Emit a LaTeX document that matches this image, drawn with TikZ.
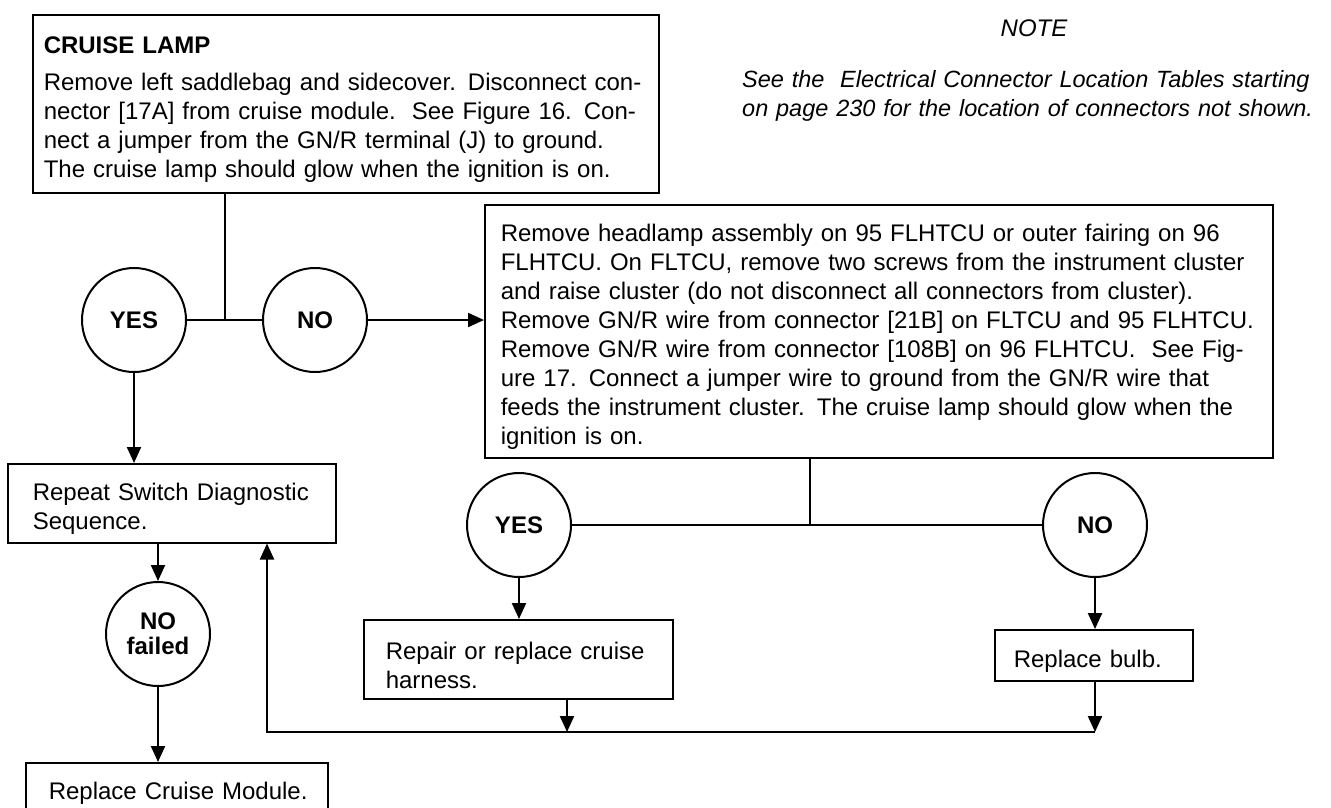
\documentclass[tikz,border=0pt]{standalone}
\usepackage{fontspec}
\setmainfont{Liberation Sans}
\usetikzlibrary{arrows.meta}
% a justified line of full width, and a line at its natural width
\newcommand{\jl}[1]{\hbox to \hsize{#1}}
\newcommand{\nl}[1]{\hbox{#1}}
\begin{document}
\begin{tikzpicture}[x=1pt,y=-1pt,
  txt/.style={font=\fontsize{24}{29}\selectfont},
  box/.style={txt,draw,line width=1.5pt,rectangle,anchor=north west,inner ysep=0pt},
  dec/.style={draw,circle,line width=2pt,minimum size=104pt,inner sep=0pt,
    font=\fontsize{24}{25}\selectfont\bfseries,align=center},
  wire/.style={line width=2.2pt},
  flow/.style={wire,-{Triangle[length=16pt,width=14pt]}},
]
\useasboundingbox (0,0) rectangle (1331,807);

% note in the upper right corner
\node[font=\fontsize{24}{29}\selectfont\itshape,inner sep=0pt] (notetitle) at (1034,28) {NOTE};
\node[font=\fontsize{23.5}{29}\selectfont\itshape,inner sep=0pt,anchor=north west,text width=582pt] (notebody) at (742,58)
  {\par\jl{See the\ \ Electrical Connector Location Tables starting}\jl{on page 230 for the location of connectors not shown.}};

% first test
\node[box,inner xsep=11pt,text width=604pt,minimum height=178pt] (lamp) at (32,14)
  {\par\nl{\bfseries CRUISE LAMP}\vskip 8pt
   \jl{Remove left saddlebag and sidecover. Disconnect con-}
   \jl{nector [17A] from cruise module.\ \ See Figure 16. Con-}
   \jl{nect a jumper from the GN/R terminal (J) to ground.}
   \nl{The cruise lamp should glow when the ignition is on.}};

\node[dec] (yes1) at (134,320) {YES};
\node[dec] (no1) at (315,320) {NO};
\coordinate (j1) at (225,320);

% second test
\node[box,inner xsep=16pt,text width=756pt,minimum height=253pt] (cluster) at (484,204)
  {\par\jl{Remove headlamp assembly on 95 FLHTCU or outer fairing on 96}
   \jl{FLHTCU. On FLTCU, remove two screws from the instrument cluster}
   \jl{and raise cluster (do not disconnect all connectors from cluster).}
   \jl{Remove GN/R wire from connector [21B] on FLTCU and 95 FLHTCU.}
   \jl{Remove GN/R wire from connector [108B] on 96 FLHTCU.\ \ See Fig-}
   \jl{ure 17. Connect a jumper wire to ground from the GN/R wire that}
   \jl{feeds the instrument cluster. The cruise lamp should glow when the}
   \nl{ignition is on.}};

\node[dec] (yes2) at (519,525) {YES};
\node[dec] (no2) at (1095,525) {NO};
\coordinate (j2) at (810,525);

% outcomes
\node[box,inner xsep=25pt,text width=278pt,minimum height=79pt] (repeat) at (7,463)
  {\par\jl{Repeat Switch Diagnostic}\nl{Sequence.}};
\node[dec] (nofail) at (158,634) {NO\\failed};
\node[box,inner xsep=23pt,text width=256pt,minimum height=50pt] (module) at (25,762)
  {\par\nl{Replace Cruise Module.}};
\node[box,inner xsep=22pt,text width=265pt,minimum height=79pt] (repair) at (363,619)
  {\par\jl{Repair or replace cruise}\nl{harness.}};
\node[box,inner xsep=19pt,text width=160pt,minimum height=51pt] (bulb) at (994,629)
  {\par\nl{Replace bulb.}};

% return path to the switch diagnostic
\coordinate (fbL) at (267,732);
\coordinate (fbA) at (567,732);

% connectors
\draw[wire] (lamp.south -| j1) -- (j1);
\draw[wire] (yes1) -- (no1);
\draw[flow] (no1.east) -- (no1.east -| cluster.west);
\draw[flow] (yes1.south) -- (yes1.south |- repeat.north);
\draw[flow] (repeat.south -| nofail) -- (nofail.north);
\draw[flow] (nofail.south) -- (nofail.south |- module.north);

\draw[wire] (cluster.south -| j2) -- (j2);
\draw[wire] (yes2) -- (no2);
\draw[flow] (yes2.south) -- (yes2.south |- repair.north);
\draw[flow] (no2.south) -- (no2.south |- bulb.north);

\draw[flow] (repair.south -| fbA) -- (fbA);
\draw[flow] (bulb.south -| no2) -- (no2 |- fbL);
\draw[flow] (no2 |- fbL) -- (fbL) -- (fbL |- repeat.south);
\end{tikzpicture}
\end{document}
